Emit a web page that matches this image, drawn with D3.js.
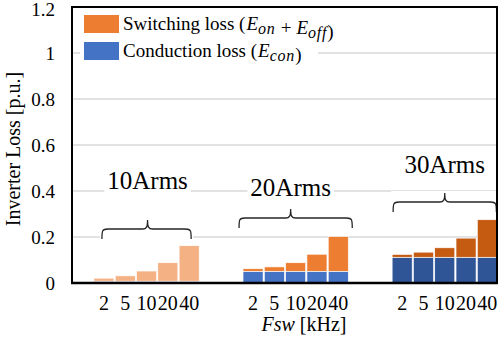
<!DOCTYPE html>
<html>
<head>
<meta charset="utf-8">
<script src="https://cdn.jsdelivr.net/npm/d3@7"></script>
<style>
  body { margin: 0; background: #fff; }
  text { font-family: "Liberation Serif", "Times New Roman", serif; fill: #000; }
</style>
</head>
<body>
<svg id="chart" width="499" height="352"></svg>
<script>
// values
var freqs = ["2", "5", "10", "20", "40"];
var groups = ["10Arms", "20Arms", "30Arms"];
var conduction = [
	[0.008, 0.008, 0.008, 0.008, 0.008],
	[0.051, 0.051, 0.051, 0.051, 0.051],
	[0.112, 0.112, 0.112, 0.112, 0.112]
];
var totals = [
	[0.021, 0.031, 0.052, 0.088, 0.162],
	[0.062, 0.070, 0.088, 0.125, 0.202],
	[0.124, 0.134, 0.153, 0.195, 0.275]
];
var yTicks = [0, 0.2, 0.4, 0.6, 0.8, 1, 1.2];
var legendLabels = ["Switching loss", "Conduction loss"];

// faded / normal / dark shades per group
var switchColours = ["#F4B183", "#ED7D31", "#C55A11"];
var condColours = ["#8FAADC", "#4472C4", "#2F5597"];

var svg = d3.select("#chart");
var plotLeft = 72, plotRight = 497, plotTop = 7, plotBottom = 283;

var slots = d3.range(20);
var x = d3.scaleBand()
	.domain(slots)
	.range([plotLeft, plotRight + 1])
	.paddingInner(0.06)
	.paddingOuter(0.03);

var y = d3.scaleLinear()
	.domain([0, 1.2])
	.range([plotBottom, plotTop]);

var slotOf = function (g, i) { return 1 + g * 7 + i; };

// flatten into bar records
var bars = [];
for (var g = 0; g < groups.length; g++) {
	for (var i = 0; i < freqs.length; i++) {
		bars.push({ g: g, i: i, slot: slotOf(g, i), cond: conduction[g][i], total: totals[g][i] });
	}
}

// gridlines
svg.append("g")
	.selectAll("line")
	.data(yTicks.slice(1))
	.enter()
	.append("line")
	.attr("x1", plotLeft)
	.attr("x2", plotRight)
	.attr("y1", function (d) { return y(d); })
	.attr("y2", function (d) { return y(d); })
	.style("stroke", "#D9D9D9")
	.style("stroke-width", 1.5);

// stacked bars
var barG = svg.append("g");
barG.selectAll("rect.cond")
	.data(bars)
	.enter()
	.append("rect")
	.attr("class", "cond")
	.attr("x", function (d) { return x(d.slot); })
	.attr("width", x.bandwidth())
	.attr("y", function (d) { return y(d.cond); })
	.attr("height", function (d) { return y(0) - y(d.cond); })
	.style("fill", function (d) { return condColours[d.g]; })
	.style("stroke", "#fff")
	.style("stroke-width", 0.6);

barG.selectAll("rect.sw")
	.data(bars)
	.enter()
	.append("rect")
	.attr("class", "sw")
	.attr("x", function (d) { return x(d.slot); })
	.attr("width", x.bandwidth())
	.attr("y", function (d) { return y(d.total); })
	.attr("height", function (d) { return y(d.cond) - y(d.total); })
	.style("fill", function (d) { return switchColours[d.g]; })
	.style("stroke", "#fff")
	.style("stroke-width", 0.6);

// group annotations: label and curly brace
var annot = [
	{ label: groups[0], labelY: 189, braceY: 229, dx: 1, pad: 8 },
	{ label: groups[1], labelY: 196, braceY: 218, dx: -5, pad: -4 },
	{ label: groups[2], labelY: 173, braceY: 202, dx: 0, pad: 1 }
];

var bracePath = function (x1, x2, xm, yh) {
	return "M" + x1 + "," + (yh + 10) +
		" C" + x1 + "," + (yh + 2) + " " + x1 + "," + yh + " " + (x1 + 6) + "," + yh +
		" L" + (xm - 5) + "," + yh +
		" C" + (xm - 1) + "," + yh + " " + xm + "," + (yh - 2) + " " + xm + "," + (yh - 9) +
		" C" + xm + "," + (yh - 2) + " " + (xm + 1) + "," + yh + " " + (xm + 5) + "," + yh +
		" L" + (x2 - 6) + "," + yh +
		" C" + x2 + "," + yh + " " + x2 + "," + (yh + 2) + " " + x2 + "," + (yh + 10);
};

annot.forEach(function (a, g) {
	var x1 = x(slotOf(g, 0)) + a.pad;
	var x2 = x(slotOf(g, 4)) + x.bandwidth() - a.pad;
	var xm = x(slotOf(g, 2)) + x.bandwidth() / 2 + a.dx;

	svg.append("rect")
		.attr("x", x1 - 2).attr("y", a.braceY - 11)
		.attr("width", x2 - x1 + 4).attr("height", 23)
		.style("fill", "#fff");
	svg.append("path")
		.attr("d", bracePath(x1, x2, xm, a.braceY))
		.style("fill", "none")
		.style("stroke", "#262626")
		.style("stroke-width", 1.3);

	var t = svg.append("text")
		.attr("x", xm)
		.attr("y", a.labelY)
		.attr("text-anchor", "middle")
		.style("font-size", "25px")
		.text(a.label);
	var bb = t.node().getBBox();
	svg.insert("rect", function () { return t.node(); })
		.attr("x", bb.x - 3).attr("y", bb.y + 2)
		.attr("width", bb.width + 6).attr("height", bb.height - 4)
		.style("fill", "#fff");
});

// frame
svg.append("rect")
	.attr("x", plotLeft)
	.attr("y", plotTop)
	.attr("width", plotRight - plotLeft)
	.attr("height", plotBottom - plotTop)
	.style("fill", "none")
	.style("stroke", "#000")
	.style("stroke-width", 2);
svg.append("line")
	.attr("x1", plotLeft - 1).attr("x2", plotRight + 1)
	.attr("y1", plotBottom).attr("y2", plotBottom)
	.style("stroke", "#000")
	.style("stroke-width", 2.5);

// y tick labels
svg.append("g")
	.selectAll("text")
	.data(yTicks)
	.enter()
	.append("text")
	.attr("x", 55)
	.attr("y", function (d) { return Math.max(y(d), 9); })
	.attr("dy", "0.35em")
	.attr("text-anchor", "end")
	.style("font-size", "19px")
	.text(function (d) { return d; });

// x tick labels
svg.append("g")
	.selectAll("text")
	.data(bars)
	.enter()
	.append("text")
	.attr("x", function (d) { return x(d.slot) + x.bandwidth() / 2; })
	.attr("y", 310)
	.attr("text-anchor", "middle")
	.style("font-size", "20px")
	.text(function (d) { return freqs[d.i]; });

// axis titles
svg.append("text")
	.attr("transform", "translate(20,149) rotate(-90)")
	.attr("text-anchor", "middle")
	.style("font-size", "20px")
	.text("Inverter Loss [p.u.]");

var xt = svg.append("text")
	.attr("x", 304)
	.attr("y", 331)
	.attr("text-anchor", "middle")
	.style("font-size", "20px");
xt.append("tspan").style("font-style", "italic").text("Fsw");
xt.append("tspan").text(" [kHz]");

// legend
var legend = svg.append("g");
legend.append("rect")
	.attr("x", 80).attr("y", 10)
	.attr("width", 238).attr("height", 53)
	.style("fill", "#fff");
legend.selectAll("rect.key")
	.data([switchColours[1], condColours[1]])
	.enter()
	.append("rect")
	.attr("class", "key")
	.attr("x", 84)
	.attr("y", function (d, i) { return 15 + i * 27; })
	.attr("width", 35)
	.attr("height", 18)
	.style("fill", function (d) { return d; });

var sub = function (txt, base, subs, gap) {
	txt.append("tspan").attr("dx", gap).style("font-style", "italic").text(base);
	txt.append("tspan").style("font-style", "italic").style("font-size", "16px")
		.style("letter-spacing", "0.8px")
		.attr("dy", 4).text(subs);
	txt.append("tspan").attr("dy", -4).text("");
};

var l1 = legend.append("text").attr("x", 123).attr("y", 30).style("font-size", "19px");
l1.append("tspan").text(legendLabels[0] + " (");
sub(l1, "E", "on", 1);
l1.append("tspan").attr("dx", 5).text("+");
sub(l1, "E", "off", 5);
l1.append("tspan").text(")");

var l2 = legend.append("text").attr("x", 123).attr("y", 57).style("font-size", "19px");
l2.append("tspan").text(legendLabels[1] + " (");
sub(l2, "E", "con", 1);
l2.append("tspan").text(")");
</script>
</body>
</html>
